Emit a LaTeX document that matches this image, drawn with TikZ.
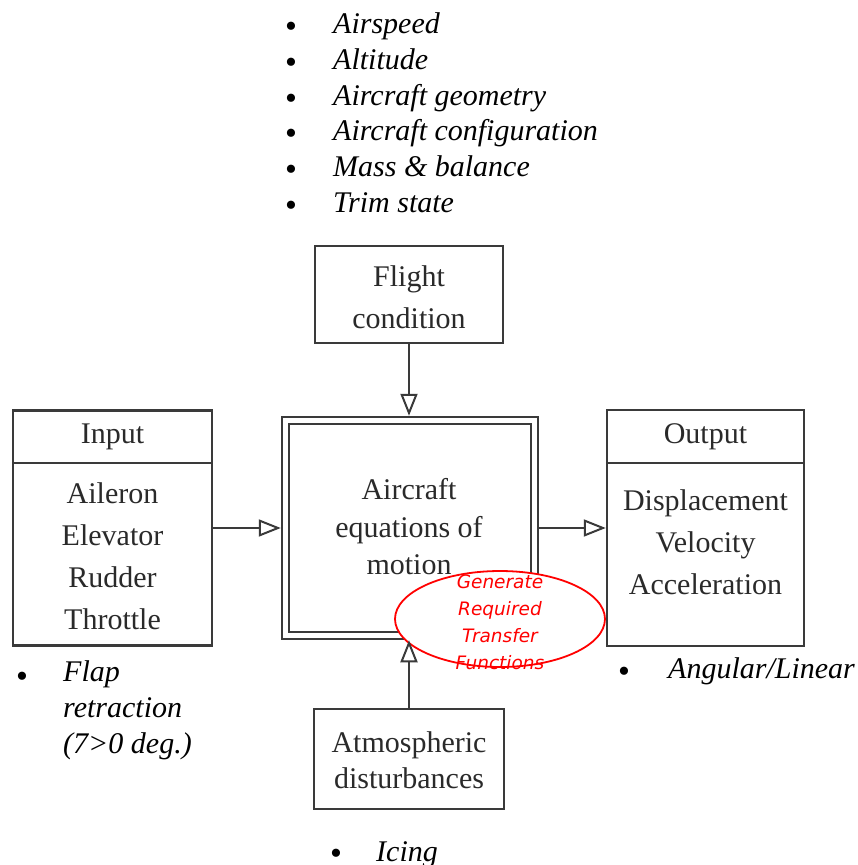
\documentclass[tikz,border=0pt]{standalone}
\usepackage{fontspec}
\setmainfont{Liberation Serif}
\newfontfamily\redfont{DejaVu Sans}
\usetikzlibrary{arrows.meta,shapes.geometric}
\definecolor{boxline}{HTML}{3A3A3A}
\definecolor{boxtext}{HTML}{2A2A2A}
\tikzset{
  blk/.style={draw=boxline, line width=2.5pt, fill=white, inner sep=0pt},
  boxtxt/.style={text=boxtext, align=center, inner sep=0pt, font=\fontsize{30}{42}\selectfont},
  bul/.style={anchor=base west, inner sep=0pt, font=\fontsize{30}{36}\selectfont\itshape, align=left},
  dot/.style={anchor=base, inner sep=0pt, font=\fontsize{34}{34}\selectfont},
  arr/.style={draw=boxline, line width=2pt, -{Triangle[open, length=22pt, width=17pt, line width=2pt]}},
}
\begin{document}
\begin{tikzpicture}[x=1pt, y=-1pt]
\useasboundingbox (0,0) rectangle (858,865);

% boxes
\node[blk, minimum width=188pt, minimum height=97pt] (flight) at (409,294.5) {};
\node[boxtxt] (flighttxt) at (409,297) {Flight\\condition};

\node[blk, minimum width=256pt, minimum height=222pt] (main) at (410,528) {};
\node[blk, minimum width=242pt, minimum height=208pt] (maininner) at (410,528) {};
\node[boxtxt, font=\fontsize{30}{37.5}\selectfont] (maintxt) at (409,527) {Aircraft\\equations of\\motion};

\node[blk, minimum width=199pt, minimum height=235pt] (inbox) at (112.5,528) {};
\draw[boxline, line width=2.5pt] (inbox.west |- 0,463) -- (inbox.east |- 0,463);
\node[boxtxt] (intitle) at (112.5,437) {Input};
\node[boxtxt] (initems) at (112.5,556) {Aileron\\Elevator\\Rudder\\Throttle};

\node[blk, minimum width=197pt, minimum height=236pt] (outbox) at (705.5,528) {};
\draw[boxline, line width=2.5pt] (outbox.west |- 0,463) -- (outbox.east |- 0,463);
\node[boxtxt] (outtitle) at (705.5,437) {Output};
\node[boxtxt] (outitems) at (705.5,542) {Displacement\\Velocity\\Acceleration};

\node[blk, minimum width=190pt, minimum height=100pt] (atm) at (409,759) {};
\node[boxtxt, font=\fontsize{30}{36}\selectfont] (atmtxt) at (409,760) {Atmospheric\\disturbances};

% connectors
\draw[arr] (flight.south) -- (flight.south |- main.north);
\draw[arr] (inbox.east) -- (main.west);
\draw[arr] (main.east) -- (outbox.west);

% red ellipse
\node[ellipse, draw=red, line width=1.8pt, fill=white, minimum width=210pt, minimum height=96pt, inner sep=0pt] (note) at (500,619) {};
\node[text=red, align=center, inner sep=0pt, font=\redfont\itshape\fontsize{18.5}{27}\selectfont] (notetxt) at (500,622) {Generate\\Required\\Transfer\\Functions};

\draw[arr] (atm.north) -- (atm.north |- main.south);

% top bullet list
\node[dot] (d1) at (291,37) {•};
\node[bul] (t1) at (333,33) {Airspeed};
\node[dot] (d2) at (291,73) {•};
\node[bul] (t2) at (333,69) {Altitude};
\node[dot] (d3) at (291,109) {•};
\node[bul] (t3) at (333,105) {Aircraft geometry};
\node[dot] (d4) at (291,144) {•};
\node[bul] (t4) at (333,140) {Aircraft configuration};
\node[dot] (d5) at (291,180) {•};
\node[bul] (t5) at (333,176) {Mass \& balance};
\node[dot] (d6) at (291,216) {•};
\node[bul] (t6) at (333,212) {Trim state};

% other bullets
\node[dot] (d7) at (22,687) {•};
\node[bul, anchor=north west] (t7) at (63,660) {Flap\\retraction\\(7>0 deg.)};
\node[dot] (d8) at (624,682) {•};
\node[bul] (t8) at (668,678) {Angular/Linear};
\node[dot] (d9) at (336,864) {•};
\node[bul] (t9) at (376,861) {Icing};
\end{tikzpicture}
\end{document}
